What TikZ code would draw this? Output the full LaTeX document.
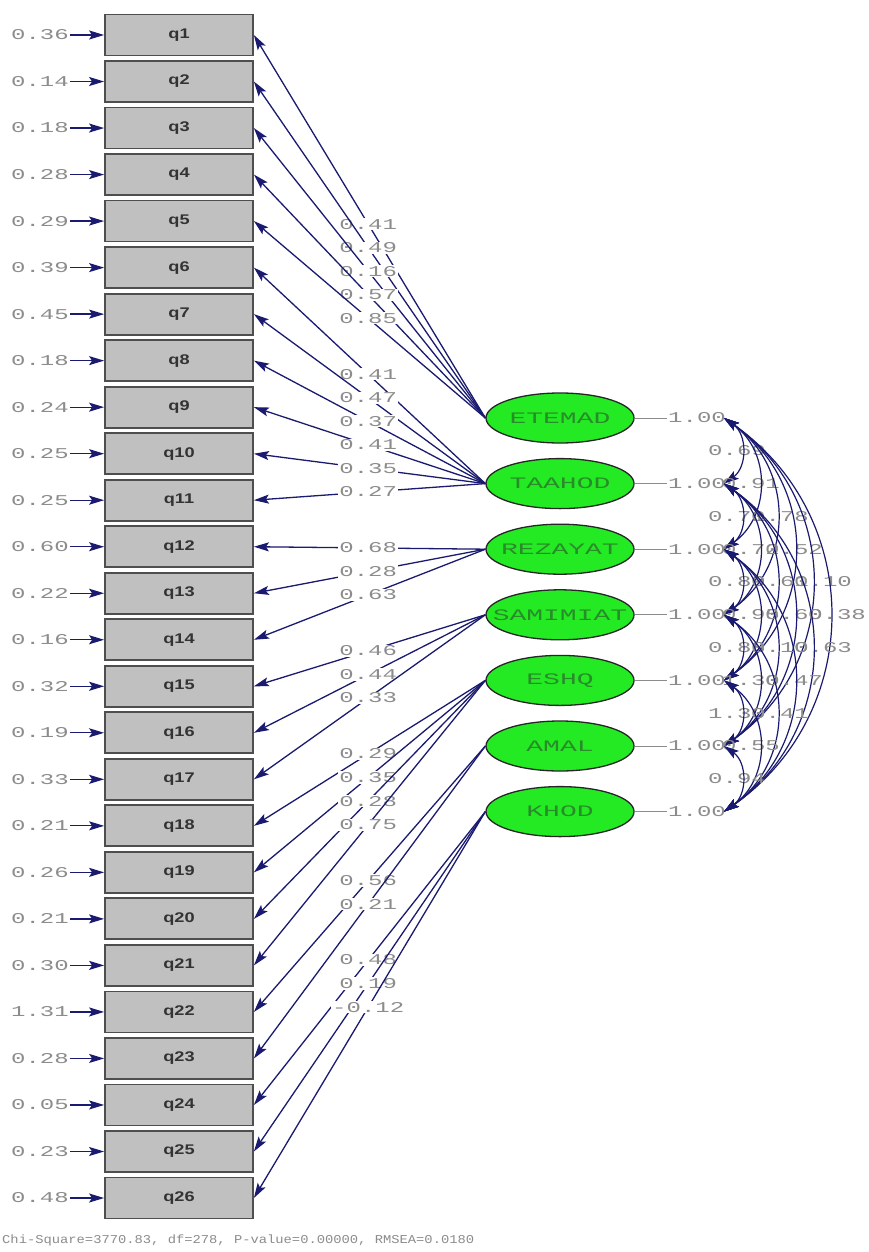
\documentclass[tikz,border=0pt]{standalone}
\usepackage{fontspec}
\usepackage{tikz}
\usetikzlibrary{shapes,shapes.misc,arrows.meta}
\newfontfamily\lisnum[FakeStretch=1.6]{Liberation Mono}
\newfontfamily\lislat[FakeStretch=1.75]{Liberation Mono}
\newfontfamily\lisfoot[FakeStretch=1.15]{Liberation Mono}
\newfontfamily\lisobs[FakeStretch=1.3]{Liberation Sans}
\definecolor{navy}{RGB}{26,26,112}
\definecolor{boxgray}{RGB}{192,192,192}
\definecolor{boxline}{RGB}{78,78,78}
\definecolor{latgreen}{RGB}{36,234,36}
\definecolor{latdark}{RGB}{40,140,40}
\definecolor{numgray}{RGB}{140,140,140}

\begin{document}
\begin{tikzpicture}[x=1pt,y=-1pt,>={Stealth[length=15pt,width=9pt,inset=3pt]}]
   \useasboundingbox (0,0) rectangle (869,1252);
   \fill[white] (0,0) rectangle (869,1252);
   \tikzstyle{obs}=[rectangle, minimum width=148pt, minimum height=41pt, fill=boxgray, draw=boxline, line width=1.8pt, text=black!80, font=\lisobs\bfseries\fontsize{14}{14}\selectfont]
   \tikzstyle{lat}=[ellipse, minimum width=148pt, minimum height=50pt, fill=latgreen, draw=black!85, line width=1.3pt, inner sep=0pt]
   \tikzstyle{latlab}=[text=latdark, inner sep=0pt, font=\lislat\fontsize{16}{16}\selectfont]
   \tikzstyle{num}=[text=numgray, inner sep=1pt, font=\lisnum\fontsize{15}{15}\selectfont]
   \tikzstyle{load}=[->, draw=navy, line width=1.3pt]
   \tikzstyle{cov}=[<->, draw=navy, line width=1.2pt]
   \foreach \i/\err in {1/0.36,2/0.14,3/0.18,4/0.28,5/0.29,6/0.39,7/0.45,8/0.18,9/0.24,10/0.25,11/0.25,12/0.60,13/0.22,
                        14/0.16,15/0.32,16/0.19,17/0.33,18/0.21,19/0.26,20/0.21,21/0.30,22/1.31,23/0.28,24/0.05,25/0.23,26/0.48} {
       \node[obs] (q\i) at (179,{35+(\i-1)*46.52}) {q\i};
       \node[num] (e\i) at (40,{35+(\i-1)*46.52}) {\err};
       \draw[load] (e\i) -- (q\i);
   }
   \foreach \f/\name/\lab in {1/etemad/ETEMAD,2/taahod/TAAHOD,3/rezayat/REZAYAT,4/samimiat/SAMIMIAT,5/eshq/ESHQ,6/amal/AMAL,7/khod/KHOD} {
       \node[lat] (\name) at (560,{418+(\f-1)*65.6}) {};
       \node[latlab] (\name-t) at (\name) {\lab};
       \node[num,anchor=west] (one\f) at (667,{418+(\f-1)*65.6}) {1.00};
       \draw[numgray,line width=0.8pt] (\name.east) -- (one\f.west);
       \coordinate (c\f) at (724,{418+(\f-1)*65.6});
   }
   \foreach \f/\q/\val in {etemad/1/0.41,etemad/2/0.49,etemad/3/0.16,etemad/4/0.57,etemad/5/0.85,
                           taahod/6/0.41,taahod/7/0.47,taahod/8/0.37,taahod/9/0.41,taahod/10/0.35,taahod/11/0.27,
                           rezayat/12/0.68,rezayat/13/0.28,rezayat/14/0.63,
                           samimiat/15/0.46,samimiat/16/0.44,samimiat/17/0.33,
                           eshq/18/0.29,eshq/19/0.35,eshq/20/0.28,eshq/21/0.75,
                           amal/22/0.56,amal/23/0.21,
                           khod/24/0.48,khod/25/0.19,khod/26/-0.12} {
       \draw[load] (\f.west) -- node[num,fill=white,pos=0.506] {\val} (q\q.east);
   }
   \foreach \a/\b/\x/\val in {1/2/708/0.69,1/3/722/0.91,2/3/708/0.71,1/4/751/0.78,2/4/722/0.72,1/5/765/0.52,
                              3/4/708/0.89,2/5/751/0.61,1/6/794/0.10,3/5/722/0.95,2/6/765/0.60,1/7/808/0.38,
                              4/5/708/0.88,3/6/751/0.10,2/7/794/0.63,4/6/722/1.30,3/7/765/0.47,
                              5/6/708/1.30,4/7/751/0.41,5/7/722/0.55,6/7/708/0.94} {
       \node[num,anchor=west,inner sep=0pt] (r\a\b) at (\x,{418+(\a+\b-2)*32.8}) {\val};
       \draw[cov] (c\a) to[bend left=55,looseness=1.12] (c\b);
   }
   \node[anchor=west,text=numgray,inner sep=0pt,font=\lisfoot\fontsize{12}{12}\selectfont] (fit) at (2,1240)
       {Chi-Square=3770.83, df=278, P-value=0.00000, RMSEA=0.0180};
\end{tikzpicture}
\end{document}
